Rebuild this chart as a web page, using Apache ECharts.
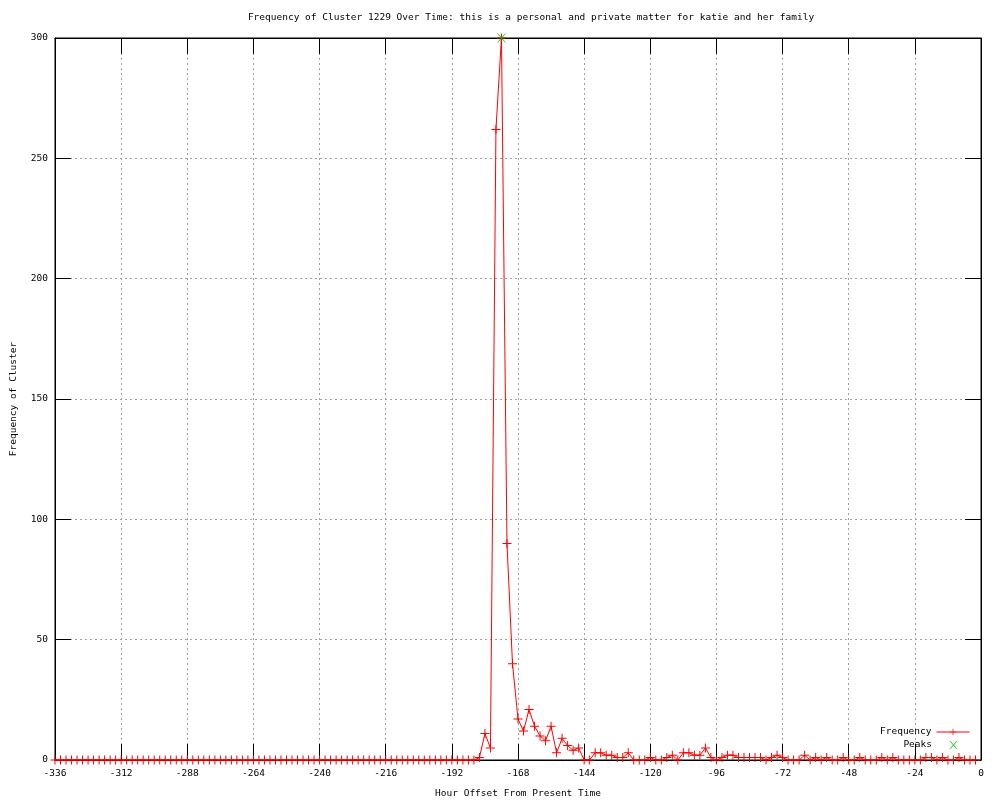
<!DOCTYPE html>
<html>
<head>
<meta charset="utf-8">
<script src="https://cdn.jsdelivr.net/npm/echarts@6/dist/echarts.min.js"></script>
<style>html,body{margin:0;padding:0;background:#fff}#c{width:1000px;height:800px}</style>
</head>
<body>
<div id="c"></div>
<script>
// Frequency per 2-hour bin, starting at hour offset -336
const startHour = -336;
const stepHours = 2;
const frequency = [
  0,0,0,0,0,0,0,0,0,0,0,
  0,0,0,0,0,0,0,0,0,0,0,
  0,0,0,0,0,0,0,0,0,0,0,
  0,0,0,0,0,0,0,0,0,0,0,
  0,0,0,0,0,0,0,0,0,0,0,
  0,0,0,0,0,0,0,0,0,0,0,
  0,0,0,0,0,0,0,0,0,0,0,
  1,11,5,262,300,90,40,17,12,21,
  14,10,8,14,3,9,6,4,5,0,
  0,3,3,2,2,1,1,3,0,0,
  0,1,0,0,1,2,0,3,3,2,
  2,5,1,0,1,2,2,1,1,1,
  1,1,0,1,2,1,0,0,0,2,
  0,1,0,1,0,0,1,0,0,1,
  0,0,0,1,0,1,0,0,0,0,
  0,1,1,0,1,0,0,1,0,0,
  0
];
const peakHours = [-174];
const peakValues = [300];
const xTicks = [-336,-312,-288,-264,-240,-216,-192,-168,-144,-120,-96,-72,-48,-24,0];
const yTicks = [0,50,100,150,200,250,300];

const hours = frequency.map((_, i) => startHour + i * stepHours);
const freqData = hours.map((h, i) => [h, frequency[i]]);
const peakData = peakHours.map((h, i) => [h, peakValues[i]]);

const FONT = 'DejaVu Sans Mono';
const plusPath = 'path://M0,4H9V5H0Z M4,0H5V9H4Z';
const crossPath = 'path://M0,0L1,0L4.5,3.5L8,0L9,0L5,4.5L9,9L8,9L4.5,5.5L1,9L0,9L4,4.5Z';
const crossLegend = 'path://M0,4L0.01,4L0.01,4.01Z M33,4L32.99,4L32.99,4.01Z M12.5,0L13.5,0L16.5,3.2L19.5,0L20.5,0L17.1,4L20.5,8L19.5,8L16.5,4.8L13.5,8L12.5,8L15.9,4Z';

const gridLine = {show: true, lineStyle: {color: '#a0a0a0', type: [2, 3], width: 1}};
const tickStyle = {show: true, inside: true, length: 16, lineStyle: {color: '#000', width: 1}};

const chart = echarts.init(document.getElementById('c'), null, {renderer: 'canvas'});
chart.setOption({
  animation: false,
  backgroundColor: '#fff',
  textStyle: {fontFamily: FONT},
  title: {
    text: 'Frequency of Cluster 1229 Over Time: this is a personal and private matter for katie and her family',
    left: 531, top: 13, padding: 0, textAlign: 'center',
    textStyle: {fontFamily: FONT, fontSize: 9.5, fontWeight: 'normal', color: '#000'}
  },
  grid: {left: 55, right: 19, top: 38, bottom: 40, containLabel: false, outerBoundsMode: 'none',
         show: true, borderColor: '#000', borderWidth: 1, backgroundColor: 'transparent'},
  legend: [
    {data: ['Frequency'], orient: 'vertical', right: 30, top: 727, padding: 0, align: 'right',
     itemWidth: 33, itemHeight: 8, itemGap: 2, lineStyle: {width: 1},
     textStyle: {fontFamily: FONT, fontSize: 9.5, color: '#000'}},
    {data: [{name: 'Peaks', icon: crossLegend}], orient: 'vertical', right: 30, top: 740, padding: 0, align: 'right',
     itemWidth: 33, itemHeight: 8, itemGap: 2,
     textStyle: {fontFamily: FONT, fontSize: 9.5, color: '#000'}}
  ],
  xAxis: [
    {type: 'value', min: xTicks[0], max: xTicks[xTicks.length - 1], interval: 24, position: 'bottom',
     name: 'Hour Offset From Present Time', nameLocation: 'middle', nameGap: 29,
     nameTextStyle: {fontFamily: FONT, fontSize: 9.5, color: '#000'},
     axisLine: {show: true, onZero: false, lineStyle: {color: '#000', width: 1}},
     axisTick: tickStyle, splitLine: gridLine,
     axisLabel: {color: '#000', fontFamily: FONT, fontSize: 9.5, margin: 9, showMinLabel: true, showMaxLabel: true}},
    {type: 'value', min: xTicks[0], max: xTicks[xTicks.length - 1], interval: 24, position: 'top',
     axisLine: {show: true, onZero: false, lineStyle: {color: '#000'}}, axisTick: tickStyle,
     splitLine: {show: false}, axisLabel: {show: false}}
  ],
  yAxis: [
    {type: 'value', min: yTicks[0], max: yTicks[yTicks.length - 1], interval: 50, position: 'left',
     name: 'Frequency of Cluster', nameLocation: 'middle', nameGap: 36, nameRotate: 90,
     nameTextStyle: {fontFamily: FONT, fontSize: 9.5, color: '#000'},
     axisLine: {show: true, onZero: false, lineStyle: {color: '#000', width: 1}},
     axisTick: tickStyle, splitLine: gridLine,
     axisLabel: {color: '#000', fontFamily: FONT, fontSize: 9.5, margin: 7}},
    {type: 'value', min: yTicks[0], max: yTicks[yTicks.length - 1], interval: 50, position: 'right',
     axisLine: {show: true, onZero: false, lineStyle: {color: '#000'}}, axisTick: tickStyle,
     splitLine: {show: false}, axisLabel: {show: false}}
  ],
  series: [
    {name: 'Frequency', type: 'line', data: freqData, xAxisIndex: 0, yAxisIndex: 0,
     symbol: plusPath, symbolSize: 9, showSymbol: true, showAllSymbol: true,
     lineStyle: {color: '#ff0000', width: 1}, itemStyle: {color: '#ff0000'},
     z: 3, silent: true},
    {name: 'Peaks', type: 'scatter', data: peakData, xAxisIndex: 0, yAxisIndex: 0,
     symbol: crossPath, symbolSize: 9, itemStyle: {color: '#00c000'}, z: 4, silent: true}
  ]
});
</script>
</body>
</html>
